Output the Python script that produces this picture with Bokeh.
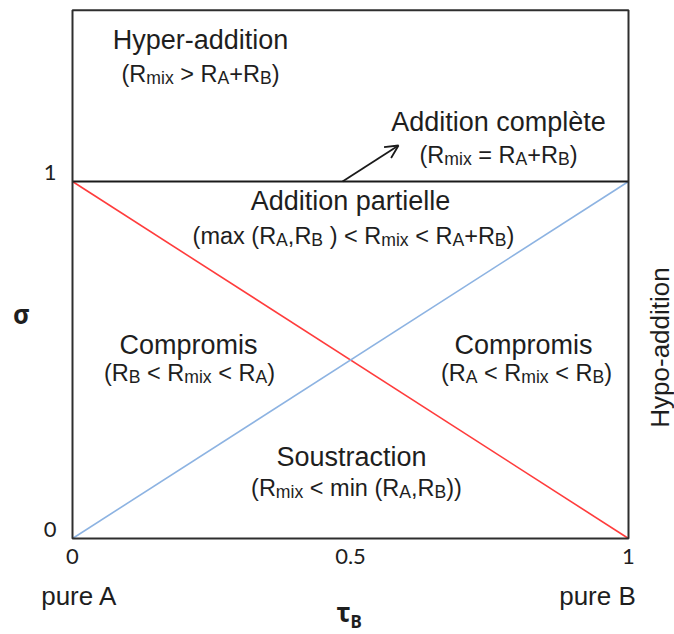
import math
import re
from bokeh.plotting import figure
from bokeh.models import ColumnDataSource, Arrow, OpenHead, Range1d
from bokeh.core.properties import value
from bokeh.embed import file_html
from bokeh.resources import INLINE

# ---------------- data ----------------
tau_B = [0.0, 1.0]                      # fraction of B in the mixture
sigma_line_red = [1.0, 0.0]             # red boundary
sigma_line_blue = [0.0, 1.0]            # blue boundary
sigma_full_addition = [1.0, 1.0]        # complete addition (sigma = 1)
sigma_top = 1.48                        # top of the diagram
tau_ticks = [0.0, 0.5, 1.0]
tau_tick_labels = ["0", "0.5", "1"]
sigma_ticks = [0.0, 1.0]
sigma_tick_labels = ["0", "1"]
end_labels = ["pure A", "pure B"]

region_titles = ["Hyper-addition", "Addition complète", "Addition partielle",
                 "Compromis", "Compromis", "Soustraction"]
region_conditions = ["(R_{mix} > R_{A}+R_{B})",
                     "(R_{mix} = R_{A}+R_{B})",
                     "(max (R_{A},R_{B} ) < R_{mix} < R_{A}+R_{B})",
                     "(R_{B} < R_{mix} < R_{A})",
                     "(R_{A} < R_{mix} < R_{B})",
                     "(R_{mix} < min (R_{A},R_{B}))"]
side_label = "Hypo-addition"

# ---------------- layout ----------------
W, H = 674, 634
X0, PX_X = 72, 556.0        # screen x of tau=0, px per unit tau
Y0, PX_Y = 538, 357.0       # screen y of sigma=0, px per unit sigma


def tx(sx):   # reference pixel -> tau
    return (sx - X0) / PX_X


def sy(syy):  # reference pixel -> sigma
    return (Y0 - syy) / PX_Y


title_pos = [(200, 39), (498, 121), (350, 200), (188, 344), (523, 344), (351, 456)]
cond_pos = [(200, 73), (498, 154), (353, 235), (189, 372), (526, 372), (356, 487)]

TITLE_SIZE = 27
COND_SIZE = 23.5
SUB_SCALE = 0.75
SUB_DROP = 0.18
FONT = "Liberation Sans"
TEXT_COLOR = "#1e1e1e"

AW = {' ': 278, '(': 333, ')': 333, ',': 278, '+': 584, '<': 584, '=': 584, '>': 584,
      'A': 667, 'B': 667, 'R': 722, 'a': 556, 'i': 222, 'm': 833, 'n': 556, 'x': 500}


def parse(s):
    segs = []
    pos = 0
    for m in re.finditer(r"_\{([^}]*)\}", s):
        if m.start() > pos:
            segs.append((s[pos:m.start()], False))
        segs.append((m.group(1), True))
        pos = m.end()
    if pos < len(s):
        segs.append((s[pos:], False))
    return segs


def layout(s, size):
    items = []
    x = 0.0
    for t, sub in parse(s):
        fs = size * SUB_SCALE if sub else size
        lead = len(t) - len(t.lstrip(' '))
        trail = len(t) - len(t.rstrip(' '))
        core = t.strip(' ')
        x += lead * AW[' '] / 1000 * fs
        items.append((core, x, fs, SUB_DROP * size if sub else 0.0))
        x += sum(AW[c] for c in core) / 1000 * fs
        x += trail * AW[' '] / 1000 * fs
    return [(c, xo - x / 2, fs, yo) for c, xo, fs, yo in items]


p = figure(width=W, height=H,
           x_range=Range1d(-X0 / PX_X, (W - X0) / PX_X),
           y_range=Range1d(-(H - Y0) / PX_Y, Y0 / PX_Y),
           output_backend="svg", toolbar_location=None,
           x_axis_location=None, y_axis_location=None,
           min_border=0, outline_line_color=None,
           background_fill_color="white", border_fill_color="white")
p.grid.visible = False

# boundary lines
p.line(tau_B, sigma_line_red, line_color="#ff3c3c", line_width=1.6)
p.line(tau_B, sigma_line_blue, line_color="#8db3e2", line_width=1.6)
p.line(tau_B, sigma_full_addition, line_color="#1a1a1a", line_width=2)
p.quad(left=[tau_B[0]], right=[tau_B[1]], bottom=[0.0], top=[sigma_top],
       fill_color=None, line_color="#2e2e2e", line_width=2)

# arrow to the complete addition line
p.add_layout(Arrow(x_start=tx(342), y_start=sigma_full_addition[0],
                   x_end=tx(398), y_end=sy(145),
                   line_color="#1a1a1a", line_width=1.8,
                   end=OpenHead(size=13, line_color="#1a1a1a", line_width=1.8)))

# region titles
p.text(x=[tx(a) for a, b in title_pos], y=[sy(b) for a, b in title_pos], text=region_titles,
       text_font=value(FONT), text_font_size=f"{TITLE_SIZE}px", text_color=TEXT_COLOR,
       text_align="center", text_baseline="alphabetic")

# region conditions with subscripts
cx, cy, ct, cxo, cyo, cfs = [], [], [], [], [], []
for cond, (a, b) in zip(region_conditions, cond_pos):
    for core, xo, fs, yo in layout(cond, COND_SIZE):
        cx.append(tx(a)); cy.append(sy(b)); ct.append(core)
        cxo.append(xo); cyo.append(yo); cfs.append(f"{fs:.2f}px")
src = ColumnDataSource(dict(x=cx, y=cy, text=ct, xo=cxo, yo=cyo, fs=cfs))
p.text(x="x", y="y", text="text", x_offset="xo", y_offset="yo", text_font_size="fs",
       source=src, text_font=value(FONT), text_color=TEXT_COLOR,
       text_align="left", text_baseline="alphabetic")

# side label
p.text(x=[tx(659)], y=[sy(347)], text=[side_label], angle=math.pi / 2,
       text_font=value(FONT), text_font_size="26px", text_color=TEXT_COLOR,
       text_align="center", text_baseline="alphabetic")

# tick labels
p.text(x=tau_ticks, y=[0.0] * len(tau_ticks), text=tau_tick_labels, y_offset=18,
       text_font=value("Lato"), text_font_size="22px", text_color=TEXT_COLOR,
       text_align="center", text_baseline="alphabetic")
p.text(x=[tx(56)] * len(sigma_ticks), y=sigma_ticks, text=sigma_tick_labels, y_offset=-9,
       text_font=value("Lato"), text_font_size="22px", text_color=TEXT_COLOR,
       text_align="right", text_baseline="alphabetic")

# pure A / pure B
p.text(x=[tx(79), tx(597)], y=[sy(595)] * 2, text=end_labels,
       text_font=value(FONT), text_font_size="26px", text_color=TEXT_COLOR,
       text_align="center", text_baseline="alphabetic")

# axis titles
p.text(x=[tx(21)], y=[sy(313)], text=["σ"],
       text_font=value("Noto Sans"), text_font_size="26px", text_font_style="bold",
       text_color=TEXT_COLOR, text_align="center", text_baseline="alphabetic")
p.text(x=[tx(343)], y=[sy(611)], text=["τ"],
       text_font=value("Noto Sans"), text_font_size="26px", text_font_style="bold",
       text_color=TEXT_COLOR, text_align="center", text_baseline="alphabetic")
p.text(x=[tx(350)], y=[sy(621)], text=["B"],
       text_font=value("Noto Sans"), text_font_size="17px", text_font_style="bold",
       text_color=TEXT_COLOR, text_align="left", text_baseline="alphabetic")

open("out.html", "w").write(file_html(p, INLINE))
